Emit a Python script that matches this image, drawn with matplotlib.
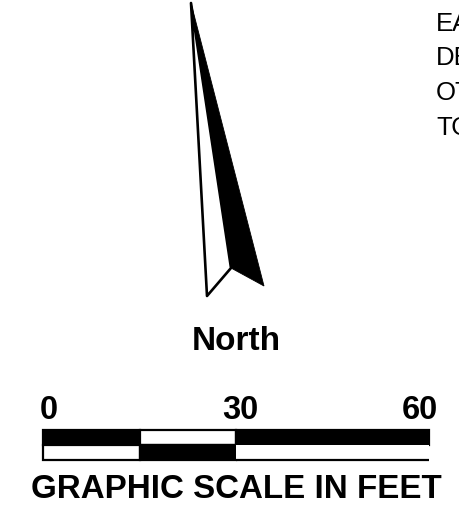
import matplotlib
matplotlib.use("Agg")
import matplotlib.pyplot as plt
from matplotlib.patches import Polygon, Rectangle

W, H = 459, 508
DPI = 100

# North arrow outline (picture pixels)
arrow_dark_x = [191, 231, 264]
arrow_dark_y = [3, 268, 286]
arrow_light_x = [191, 207, 231]
arrow_light_y = [3, 296, 268]

# Graphic scale, in feet
scale_ticks = [0, 30, 60]
scale_label_shift = [0.9, 0.7, -1.4]
scale_edges = [0, 15, 30, 60]
top_row_dark = [True, False, True]
bottom_row_dark = [False, True, False]

# Only the letters the picture shows; the right edge of the figure cuts them
note_lines = ["EA", "DE", "OT", "TO"]
note_y = [24, 58, 93, 128]

plt.rcParams["font.family"] = ["Liberation Sans", "DejaVu Sans"]
fig = plt.figure(figsize=(W / DPI, H / DPI), dpi=DPI, facecolor="white")

ax = fig.add_axes([0, 0, 1, 1])
ax.set_xlim(0, W)
ax.set_ylim(H, 0)
ax.axis("off")

ax.add_patch(Polygon(list(zip(arrow_light_x, arrow_light_y)), closed=True,
                     facecolor="white", edgecolor="black", linewidth=1.9, joinstyle="round"))
ax.add_patch(Polygon(list(zip(arrow_dark_x, arrow_dark_y)), closed=True,
                     facecolor="black", edgecolor="black", linewidth=0.6, joinstyle="miter"))

ax.text(236, 341, "North", ha="center", va="center", fontsize=24, fontweight="bold")
ax.text(236, 490, "GRAPHIC SCALE IN FEET", ha="center", va="center", fontsize=23.9, fontweight="bold")

for s, y in zip(note_lines, note_y):
    ax.text(436, y, s, ha="left", va="center", fontsize=18.5, color="black", clip_on=False)

# Scale bar axes: feet on x, two rows on y
sx = fig.add_axes([43 / W, 1 - 460 / H, (429 - 43) / W, 30 / H])
sx.set_xlim(0, 60)
sx.set_ylim(0, 2)
sx.axis("off")
for row_y, row in [(1, top_row_dark), (0, bottom_row_dark)]:
    for i, dark in enumerate(row):
        open_end = (row_y == 0 and i == len(row) - 1)
        sx.add_patch(Rectangle((scale_edges[i], row_y), scale_edges[i + 1] - scale_edges[i], 1,
                               facecolor="black" if dark else "white",
                               edgecolor="none" if open_end else "black",
                               linewidth=1.6, clip_on=False))
        if open_end:
            sx.plot([scale_edges[i], scale_edges[i + 1]], [row_y, row_y],
                    color="black", linewidth=1.6, clip_on=False, solid_capstyle="butt")
for t, shift in zip(scale_ticks, scale_label_shift):
    sx.text(t + shift, 2.25, str(t), ha="center", va="bottom",
            fontsize=23.5, fontweight="bold", clip_on=False)

fig.savefig("out.png", dpi=DPI)
